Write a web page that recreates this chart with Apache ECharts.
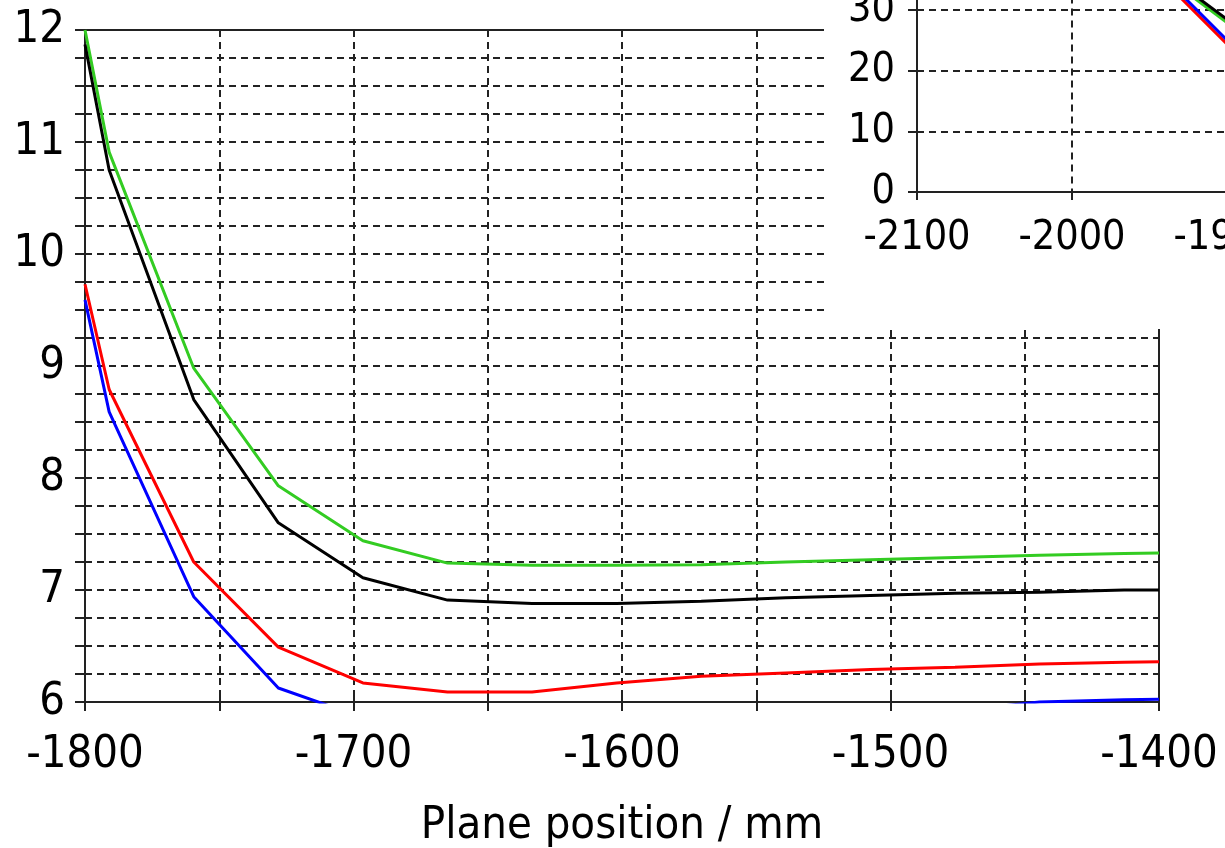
<!DOCTYPE html>
<html lang="en">
<head>
<meta charset="utf-8">
<title>Plane position / mm</title>
<script src="https://cdn.jsdelivr.net/npm/echarts@6/dist/echarts.min.js"></script>
<style>
    html, body { margin: 0; padding: 0; background: #fff; }
    #main { width: 1225px; height: 848px; }
</style>
</head>
<body>
<div id="main"></div>
<script>
    // main plot data (plane position in mm)
    var positions = [-1800, -1791, -1759.5, -1728, -1696.5, -1665, -1633.5, -1602, -1570.5, -1539, -1507.5, -1476, -1444.5, -1413, -1400];
    var greenVals = [12.0, 10.91, 8.98, 7.93, 7.44, 7.24, 7.22, 7.22, 7.225, 7.25, 7.27, 7.29, 7.31, 7.325, 7.33];
    var blackVals = [11.87, 10.75, 8.70, 7.60, 7.11, 6.91, 6.88, 6.88, 6.90, 6.93, 6.95, 6.97, 6.98, 7.0, 7.0];
    var redVals = [9.73, 8.79, 7.25, 6.49, 6.17, 6.09, 6.09, 6.17, 6.23, 6.26, 6.29, 6.31, 6.34, 6.355, 6.36];
    var blueVals = [9.59, 8.59, 6.94, 6.125, 5.86, 5.75, 5.74, 5.78, 5.83, 5.87, 5.90, 5.92, 6.0, 6.02, 6.025];

    // inset (wide range) - only its lower left corner is on the page
    var insetPositions = [-1935, -1895];
    var insetGreen = [34.6, 26.97];
    var insetBlack = [35.1, 27.47];
    var insetRed = [33.3, 23.1];
    var insetBlue = [33.95, 23.75];

    var FONT = 'DejaVu Sans Condensed, DejaVu Sans';
    var AXIS = '#222';
    var LW = 3;

    function pairs(xs, ys) {
        return xs.map(function (x, i) { return [x, ys[i]]; });
    }

    var dashed = { show: true, lineStyle: { color: '#222', width: 2, type: [7, 5] } };

    var myChart = echarts.init(document.getElementById('main'), null, { renderer: 'canvas' });

    var option = {
        backgroundColor: '#fff',
        animation: false,
        textStyle: { fontFamily: FONT },
        grid: [
            { left: 85, top: 30, width: 1074, height: 672, outerBoundsMode: 'none' },
            { left: 917, top: 192 - 50 * 6.07, width: 1085, height: 50 * 6.07, outerBoundsMode: 'none' }
        ],
        graphic: [{
            type: 'rect',
            z: 5,
            shape: { x: 824, y: 0, width: 401, height: 329 },
            style: { fill: '#fff' }
        }],
        xAxis: [
            {
                gridIndex: 0, type: 'value', position: 'bottom',
                min: -1800, max: -1400, interval: 50,
                name: 'Plane position / mm', nameLocation: 'middle', nameGap: 102,
                nameTextStyle: { fontSize: 45, color: '#000', fontFamily: FONT },
                axisLine: { lineStyle: { color: AXIS, width: 2 } },
                axisTick: { length: 9, lineStyle: { color: AXIS, width: 2 } },
                axisLabel: {
                    fontSize: 45, color: '#000', margin: 31, fontFamily: FONT,
                    formatter: function (v) { return v % 100 === 0 ? String(v) : ''; }
                },
                splitLine: dashed
            },
            {
                gridIndex: 0, type: 'value', position: 'bottom',
                min: -1800, max: -1400, interval: 50,
                axisLine: { show: false },
                axisTick: { inside: true, length: 8, lineStyle: { color: AXIS, width: 2 } },
                axisLabel: { show: false }, splitLine: { show: false }
            },
            {
                gridIndex: 0, type: 'value', position: 'top',
                min: -1800, max: -1400,
                axisLine: { show: true, lineStyle: { color: AXIS, width: 2 } },
                axisTick: { show: false }, axisLabel: { show: false }, splitLine: { show: false }
            },
            {
                gridIndex: 1, type: 'value', position: 'bottom', z: 10,
                min: -2100, max: -1400, interval: 100,
                axisLine: { onZero: false, lineStyle: { color: AXIS, width: 2 } },
                axisTick: { length: 8, lineStyle: { color: AXIS, width: 2 } },
                axisLabel: {
                    fontSize: 41, color: '#000', margin: 26, fontFamily: FONT,
                    formatter: function (v) { return String(v); }
                },
                splitLine: dashed
            }
        ],
        yAxis: [
            {
                gridIndex: 0, type: 'value', position: 'left',
                min: 6, max: 12, interval: 0.25,
                axisLine: { show: true, lineStyle: { color: AXIS, width: 2 } },
                axisTick: { show: true, length: 10, lineStyle: { color: AXIS, width: 2 } },
                axisLabel: {
                    fontSize: 45, color: '#000', margin: 20, fontFamily: FONT,
                    formatter: function (v) { return Math.abs(v - Math.round(v)) < 1e-6 ? String(Math.round(v)) : ''; }
                },
                splitLine: dashed
            },
            {
                gridIndex: 0, type: 'value', position: 'left',
                min: 6, max: 12, interval: 0.25,
                axisLine: { show: false },
                axisTick: { show: true, inside: true, length: 5, lineStyle: { color: AXIS, width: 2 } },
                axisLabel: { show: false }, splitLine: { show: false }
            },
            {
                gridIndex: 0, type: 'value', position: 'right',
                min: 6, max: 12,
                axisLine: { show: true, lineStyle: { color: AXIS, width: 2 } },
                axisTick: { show: false }, axisLabel: { show: false }, splitLine: { show: false }
            },
            {
                gridIndex: 1, type: 'value', position: 'left', z: 10,
                min: 0, max: 50, interval: 10,
                axisLine: { show: true, onZero: false, lineStyle: { color: AXIS, width: 2 } },
                axisTick: { show: true, length: 9, lineStyle: { color: AXIS, width: 2 } },
                axisLabel: { fontSize: 41, color: '#000', margin: 22, fontFamily: FONT },
                splitLine: dashed
            }
        ],
        series: [
            { type: 'line', xAxisIndex: 0, yAxisIndex: 0, showSymbol: false, data: pairs(positions, greenVals), lineStyle: { color: '#33cc22', width: LW } },
            { type: 'line', xAxisIndex: 0, yAxisIndex: 0, showSymbol: false, data: pairs(positions, blackVals), lineStyle: { color: '#000', width: LW } },
            { type: 'line', xAxisIndex: 0, yAxisIndex: 0, showSymbol: false, data: pairs(positions, redVals), lineStyle: { color: '#ff0000', width: LW } },
            { type: 'line', xAxisIndex: 0, yAxisIndex: 0, showSymbol: false, data: pairs(positions, blueVals), lineStyle: { color: '#0000ff', width: LW } },
            { type: 'line', xAxisIndex: 3, yAxisIndex: 3, z: 12, showSymbol: false, data: pairs(insetPositions, insetGreen), lineStyle: { color: '#33cc22', width: LW } },
            { type: 'line', xAxisIndex: 3, yAxisIndex: 3, z: 12, showSymbol: false, data: pairs(insetPositions, insetBlack), lineStyle: { color: '#000', width: LW } },
            { type: 'line', xAxisIndex: 3, yAxisIndex: 3, z: 12, showSymbol: false, data: pairs(insetPositions, insetRed), lineStyle: { color: '#ff0000', width: LW } },
            { type: 'line', xAxisIndex: 3, yAxisIndex: 3, z: 12, showSymbol: false, data: pairs(insetPositions, insetBlue), lineStyle: { color: '#0000ff', width: LW } }
        ]
    };

    myChart.setOption(option);
</script>
</body>
</html>
